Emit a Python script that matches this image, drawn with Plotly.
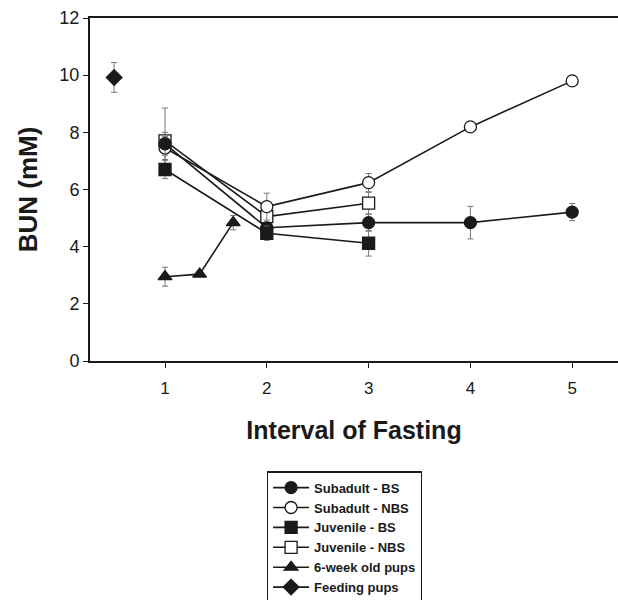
import plotly.graph_objects as go

# Data
sub_bs_x = [1, 2, 3, 4, 5]
sub_bs_y = [7.6, 4.66, 4.84, 4.84, 5.21]
sub_bs_e = [0.4, 0.2, 0.3, 0.57, 0.3]

sub_nbs_x = [1, 2, 3, 4, 5]
sub_nbs_y = [7.45, 5.4, 6.24, 8.19, 9.8]
sub_nbs_e = [0.4, 0.47, 0.32, 0.0, 0.0]

juv_bs_x = [1, 2, 3]
juv_bs_y = [6.7, 4.47, 4.12]
juv_bs_e = [0.32, 0.25, 0.45]

juv_nbs_x = [1, 2, 3]
juv_nbs_y = [7.7, 5.05, 5.52]
juv_nbs_e = [1.15, 0.3, 0.38]

pups6_x = [1, 1.34, 1.67]
pups6_y = [2.95, 3.04, 4.84]
pups6_e = [0.33, 0.0, 0.25]

feed_x = [0.5]
feed_y = [9.92]
feed_e = [0.52]

# (name, x, y, err, symbol, filled, legend rank); drawn in list order
series = [
    ("Juvenile - NBS", juv_nbs_x, juv_nbs_y, juv_nbs_e, "square", False, 4),
    ("Subadult - NBS", sub_nbs_x, sub_nbs_y, sub_nbs_e, "circle", False, 2),
    ("Subadult - BS", sub_bs_x, sub_bs_y, sub_bs_e, "circle", True, 1),
    ("Juvenile - BS", juv_bs_x, juv_bs_y, juv_bs_e, "square", True, 3),
    ("6-week old pups", pups6_x, pups6_y, pups6_e, "triangle-up", True, 5),
    ("Feeding pups", feed_x, feed_y, feed_e, "diamond", True, 6),
]

x_ticks = [1, 2, 3, 4, 5]
y_ticks = [0, 2, 4, 6, 8, 10, 12]

INK = "#1a1a1a"
fig = go.Figure()
for name, xs, ys, es, sym, filled, rank in series:
    fig.add_trace(go.Scatter(
        x=xs, y=ys, name=name, mode="lines+markers", legendrank=rank,
        line=dict(color=INK, width=1.6),
        marker=dict(symbol=sym, size=12,
                    color=INK if filled else "white",
                    line=dict(color=INK, width=1.3)),
        error_y=dict(type="data", array=es, visible=True, color="#777777",
                     thickness=1, width=3),
    ))

fig.update_layout(
    width=618, height=600,
    margin=dict(l=90, r=0, t=18, b=239, autoexpand=False),
    paper_bgcolor="white", plot_bgcolor="white",
    font=dict(family="Liberation Sans, Arial, sans-serif", color=INK),
    showlegend=True,
    legend=dict(
        x=0.335, y=-0.322, xanchor="left", yanchor="top",
        bordercolor=INK, borderwidth=1.2,
        font=dict(size=13, family="Liberation Sans, Arial, sans-serif", weight="bold"),
        tracegroupgap=0, itemwidth=36,
    ),
    xaxis=dict(
        range=[0.263, 5.45], tickvals=x_ticks, ticks="outside", ticklen=5,
        tickcolor=INK, showline=True, linecolor=INK, linewidth=2,
        mirror=True, showgrid=False, zeroline=False, automargin=False,
        tickfont=dict(size=17), ticklabelstandoff=6,
        title=dict(text="<b>Interval of Fasting</b>", font=dict(size=25), standoff=24),
    ),
    yaxis=dict(
        range=[0, 12], tickvals=y_ticks, ticks="outside", ticklen=5,
        tickcolor=INK, showline=True, linecolor=INK, linewidth=2,
        showgrid=False, zeroline=False, automargin=False,
        tickfont=dict(size=18),
        title=dict(text="<b>BUN (mM)</b>", font=dict(size=26), standoff=14),
    ),
)

fig.write_html("out.html", config={"displayModeBar": False},
               post_script="document.body.style.margin='0';document.body.style.overflow='hidden';")
